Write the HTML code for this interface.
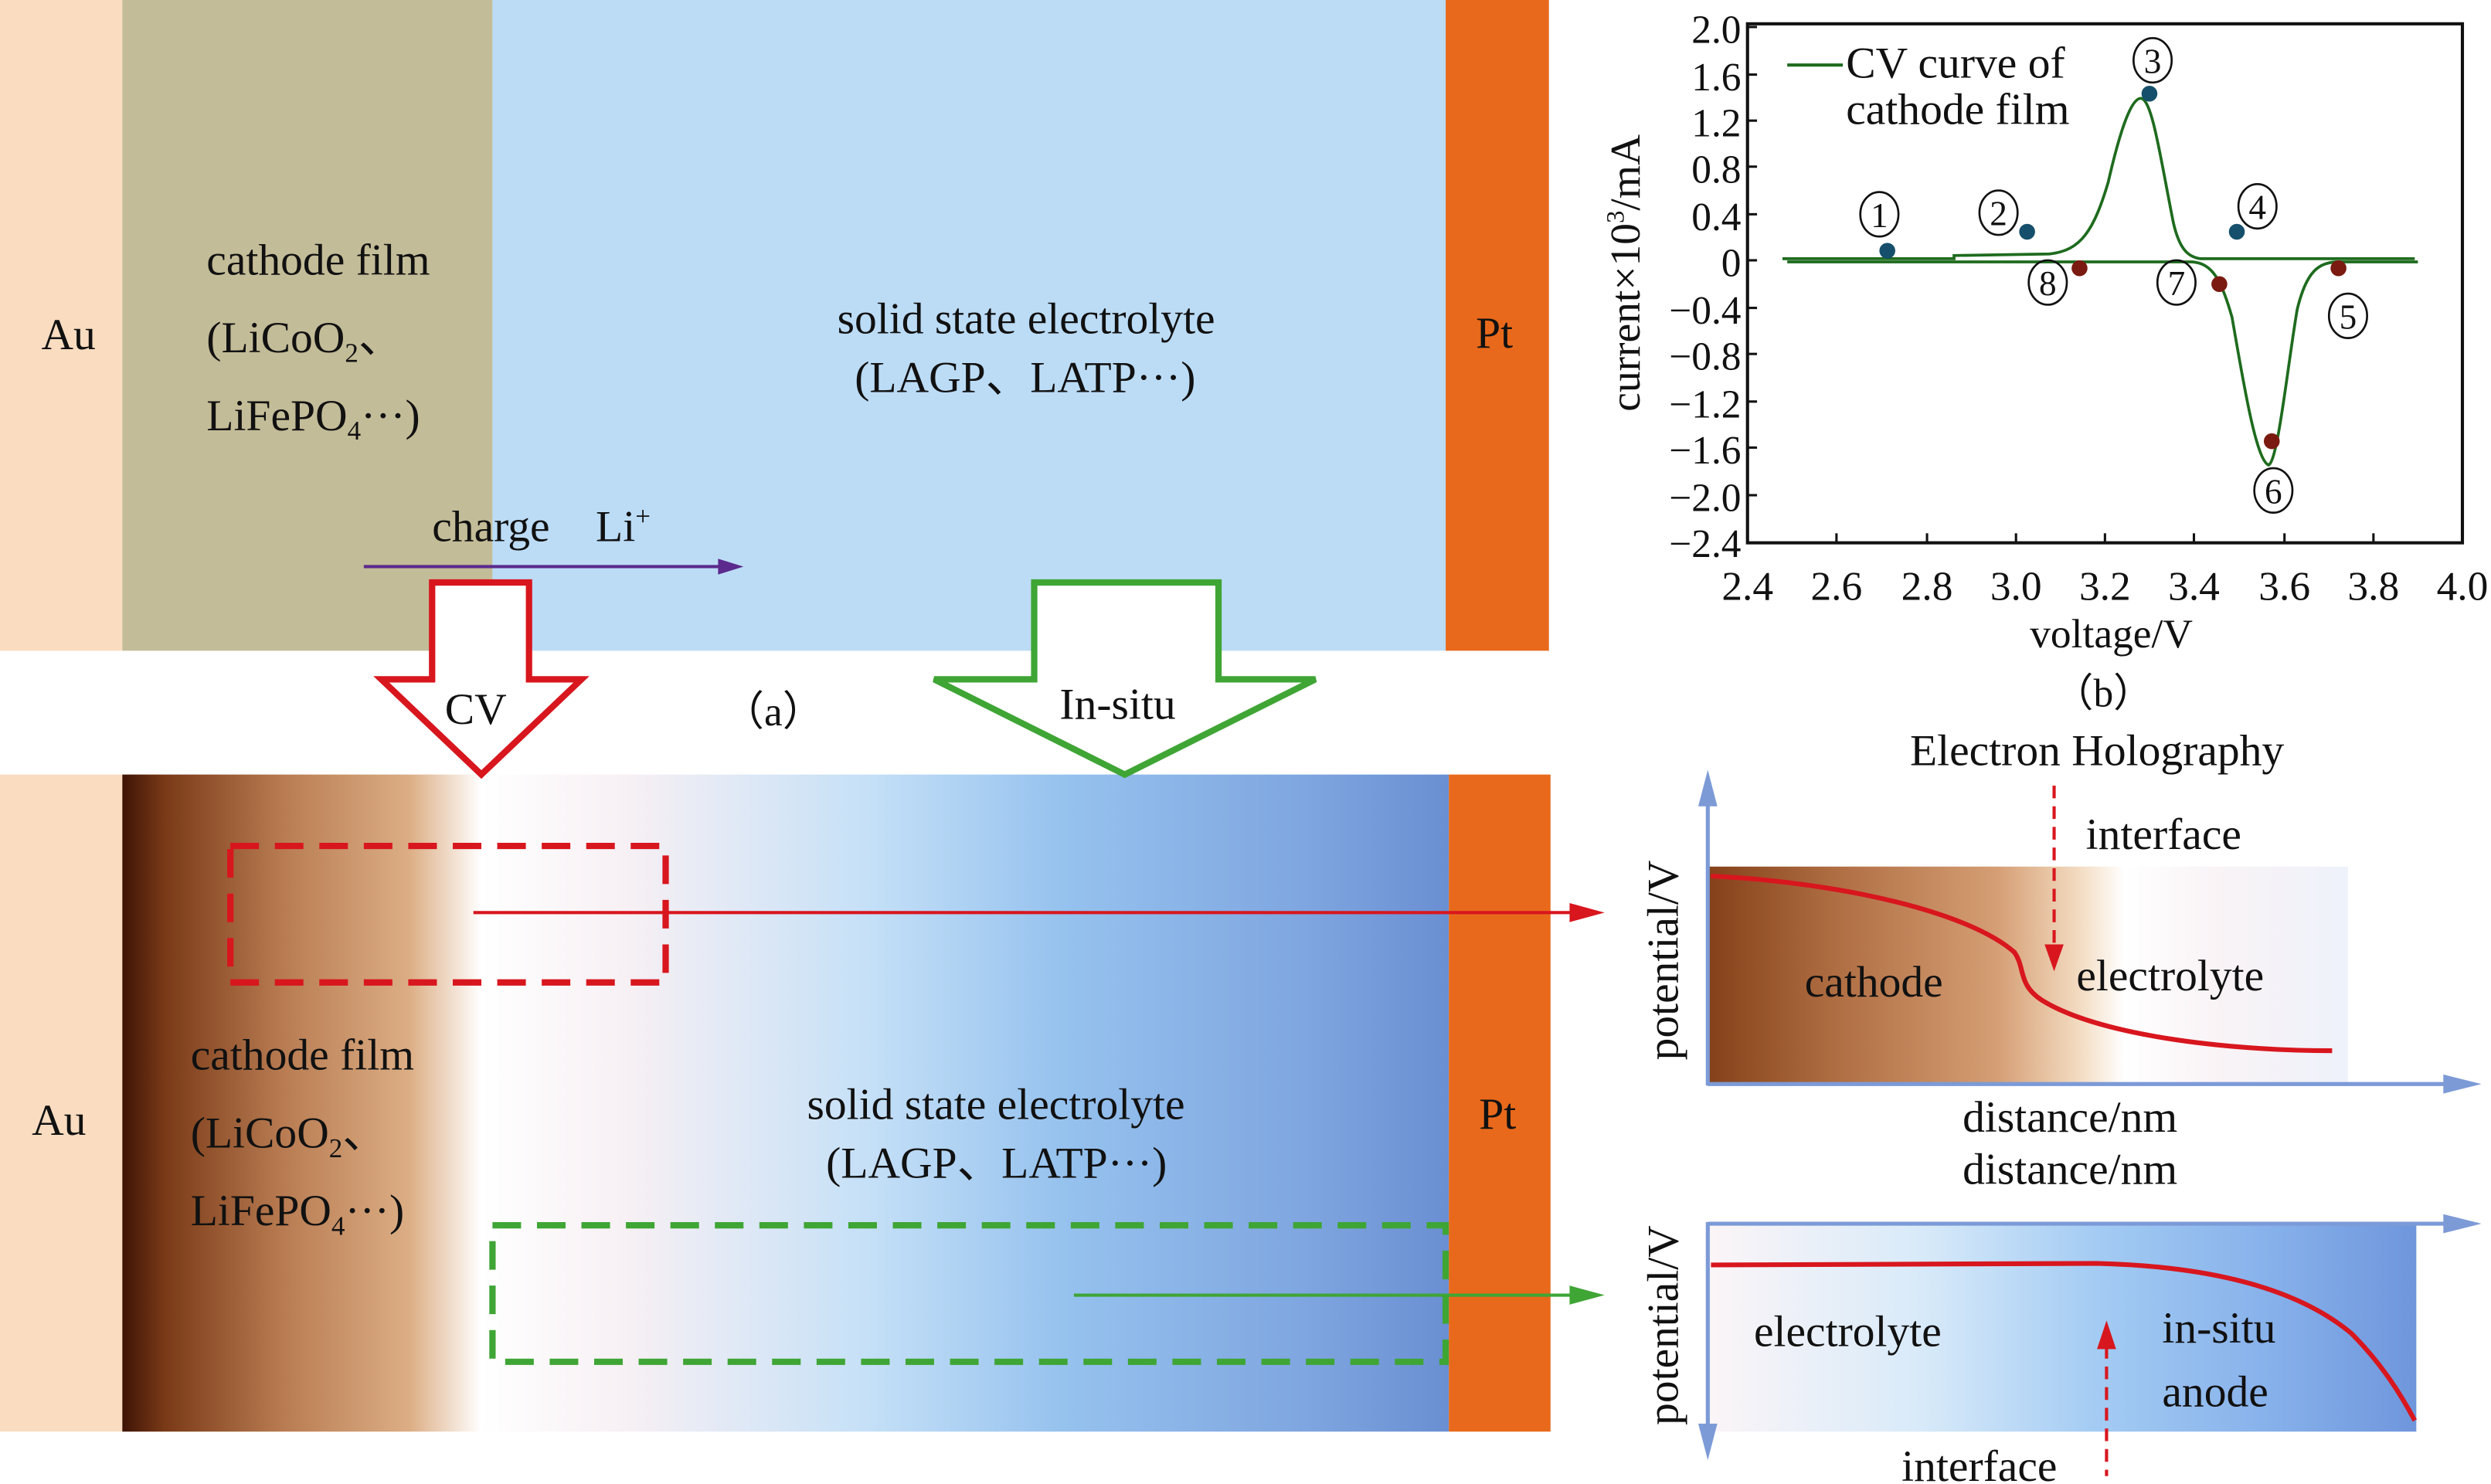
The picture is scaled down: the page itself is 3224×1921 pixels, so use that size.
<!DOCTYPE html>
<html><head><meta charset="utf-8"><style>
html,body{margin:0;padding:0;background:#fff;}
svg{display:block}
text{font-family:"Liberation Serif","DejaVu Serif",serif;fill:#111;}
</style></head><body>
<svg width="3224" height="1921" viewBox="0 0 1568 935" preserveAspectRatio="none" xmlns="http://www.w3.org/2000/svg">
<defs>
<linearGradient id="cg" x1="0" x2="1" y1="0" y2="0">
<stop offset="0" stop-color="#3e1406"/><stop offset="0.12" stop-color="#7a3a17"/><stop offset="0.45" stop-color="#b97c52"/><stop offset="0.8" stop-color="#dcae85"/><stop offset="1" stop-color="#ffffff"/></linearGradient>
<linearGradient id="eg" x1="0" x2="1" y1="0" y2="0">
<stop offset="0" stop-color="#ffffff"/><stop offset="0.15" stop-color="#f7f0f4"/><stop offset="0.4" stop-color="#c5e0f7"/><stop offset="0.6" stop-color="#96c2ee"/><stop offset="0.85" stop-color="#7fa6e0"/><stop offset="1" stop-color="#6a8fd2"/></linearGradient>
<linearGradient id="hc" x1="0" x2="1"><stop offset="0" stop-color="#85421a"/><stop offset="0.2" stop-color="#b06e43"/><stop offset="0.45" stop-color="#d59e74"/><stop offset="0.58" stop-color="#f3dcc2"/><stop offset="0.65" stop-color="#ffffff"/><stop offset="0.8" stop-color="#f9f3f6"/><stop offset="1" stop-color="#eef2fb"/></linearGradient>
<linearGradient id="ha" x1="0" x2="1"><stop offset="0" stop-color="#fbf5f7"/><stop offset="0.3" stop-color="#d8eaf9"/><stop offset="0.55" stop-color="#a3cbf3"/><stop offset="0.8" stop-color="#86b0ea"/><stop offset="1" stop-color="#6f96dc"/></linearGradient>
</defs>
<!-- top panel -->
<rect x="0" y="0" width="77" height="410" fill="#fadcc0"/>
<rect x="77" y="0" width="233" height="410" fill="#c3bc98"/>
<rect x="310" y="0" width="600" height="410" fill="#bcdcf6"/>
<rect x="910" y="0" width="65" height="410" fill="#e8691b"/>
<text x="26" y="220" font-size="28">Au</text>
<text x="130" y="173" font-size="28">cathode film</text>
<text x="130" y="222" font-size="28">(LiCoO<tspan font-size="17" dy="6">2</tspan><tspan dy="-6">、</tspan></text>
<text x="130" y="271" font-size="28">LiFePO<tspan font-size="17" dy="6">4</tspan><tspan dy="-6">···)</tspan></text>
<text x="527" y="210" font-size="28">solid state electrolyte</text>
<text x="538" y="247" font-size="28">(LAGP、LATP···)</text>
<text x="929" y="219" font-size="28">Pt</text>
<text x="272" y="341" font-size="28">charge</text>
<text x="375" y="341" font-size="28">Li<tspan font-size="17" dy="-10">+</tspan></text>
<line x1="229" y1="357" x2="458" y2="357" stroke="#5b2a8c" stroke-width="2"/>
<polygon points="468,357 452,352 452,362" fill="#5b2a8c"/>
<!-- bottom panel -->
<rect x="0" y="488" width="77" height="414" fill="#fadcc0"/>
<rect x="77" y="488" width="226" height="414" fill="url(#cg)"/>
<rect x="303" y="488" width="609" height="414" fill="url(#eg)"/>
<rect x="912" y="488" width="64" height="414" fill="#e8691b"/>
<text x="20" y="715" font-size="28">Au</text>
<text x="120" y="674" font-size="28">cathode film</text>
<text x="120" y="723" font-size="28">(LiCoO<tspan font-size="17" dy="6">2</tspan><tspan dy="-6">、</tspan></text>
<text x="120" y="772" font-size="28">LiFePO<tspan font-size="17" dy="6">4</tspan><tspan dy="-6">···)</tspan></text>
<text x="508" y="705" font-size="28">solid state electrolyte</text>
<text x="520" y="742" font-size="28">(LAGP、LATP···)</text>
<text x="931" y="711" font-size="28">Pt</text>
<rect x="145" y="533" width="274" height="86" fill="none" stroke="#d8161e" stroke-width="4" stroke-dasharray="18,10"/>
<line x1="298" y1="575" x2="995" y2="575" stroke="#d8161e" stroke-width="2"/>
<polygon points="1010,575 988,569 988,581" fill="#d8161e"/>
<rect x="310" y="772" width="600" height="86" fill="none" stroke="#3fa535" stroke-width="4" stroke-dasharray="18,10"/>
<line x1="676" y1="816" x2="995" y2="816" stroke="#3fa535" stroke-width="2"/>
<polygon points="1010,816 988,810 988,822" fill="#3fa535"/>
<!-- big arrows -->
<polygon points="272,367 333,367 333,428 366,428 303,488 240,428 272,428" fill="#fff" stroke="#d8161e" stroke-width="4"/>
<text x="280" y="456" font-size="28">CV</text>
<polygon points="651,367 767,367 767,428 828,428 708,488 588,428 651,428" fill="#fff" stroke="#3fa535" stroke-width="4"/>
<text x="667" y="453" font-size="28">In-situ</text>
<text x="455" y="457" font-size="26">（a）</text>
<!-- CV plot -->
<rect x="1100" y="15" width="450" height="327" fill="none" stroke="#111" stroke-width="2"/>
<g stroke="#111" stroke-width="1.5">
<line x1="1100" y1="17" x2="1106" y2="17"/><line x1="1100" y1="47" x2="1106" y2="47"/><line x1="1100" y1="76" x2="1106" y2="76"/><line x1="1100" y1="105" x2="1106" y2="105"/><line x1="1100" y1="135" x2="1106" y2="135"/><line x1="1100" y1="164" x2="1106" y2="164"/><line x1="1100" y1="194" x2="1106" y2="194"/><line x1="1100" y1="223" x2="1106" y2="223"/><line x1="1100" y1="253" x2="1106" y2="253"/><line x1="1100" y1="282" x2="1106" y2="282"/><line x1="1100" y1="312" x2="1106" y2="312"/>
<line x1="1156" y1="342" x2="1156" y2="336"/><line x1="1213" y1="342" x2="1213" y2="336"/><line x1="1269" y1="342" x2="1269" y2="336"/><line x1="1325" y1="342" x2="1325" y2="336"/><line x1="1381" y1="342" x2="1381" y2="336"/><line x1="1438" y1="342" x2="1438" y2="336"/><line x1="1494" y1="342" x2="1494" y2="336"/>
</g>
<g font-size="25" text-anchor="end">
<text x="1096" y="27">2.0</text><text x="1096" y="57">1.6</text><text x="1096" y="86">1.2</text><text x="1096" y="115">0.8</text><text x="1096" y="145">0.4</text><text x="1096" y="174">0</text><text x="1096" y="204">−0.4</text><text x="1096" y="233">−0.8</text><text x="1096" y="263">−1.2</text><text x="1096" y="292">−1.6</text><text x="1096" y="322">−2.0</text><text x="1096" y="351">−2.4</text>
</g>
<g font-size="26" text-anchor="middle">
<text x="1100" y="378">2.4</text><text x="1156" y="378">2.6</text><text x="1213" y="378">2.8</text><text x="1269" y="378">3.0</text><text x="1325" y="378">3.2</text><text x="1381" y="378">3.4</text><text x="1438" y="378">3.6</text><text x="1494" y="378">3.8</text><text x="1550" y="378">4.0</text>
<text x="1329" y="408">voltage/V</text>
<text x="1324" y="445" font-size="25">（b）</text>
</g>
<text transform="translate(1032,172) rotate(-90)" font-size="27" text-anchor="middle">current×10<tspan font-size="16" dy="-10">3</tspan><tspan dy="10">/mA</tspan></text>
<line x1="1125" y1="41" x2="1160" y2="41" stroke="#1e6b1e" stroke-width="2"/>
<text x="1162" y="49" font-size="28">CV curve of</text>
<text x="1162" y="78" font-size="28">cathode film</text>
<path d="M1122,163 L1230,163 L1230,161 L1290,160 C1310,158 1318,145 1327,115 C1335,80 1342,61 1348,62 C1355,64 1360,100 1368,140 C1372,158 1378,162 1385,163 L1520,163" fill="none" stroke="#1e6b1e" stroke-width="1.8"/>
<path d="M1125,165 L1380,165 C1392,166 1398,175 1405,200 C1412,240 1420,290 1428,293 C1434,290 1440,230 1446,195 C1452,170 1460,166 1470,165 L1522,165" fill="none" stroke="#1e6b1e" stroke-width="1.8"/>
<g fill="#164f6b"><circle cx="1188" cy="158" r="5"/><circle cx="1276" cy="146" r="5"/><circle cx="1353" cy="59" r="5"/><circle cx="1408" cy="146" r="5"/></g>
<g fill="#7a1a10"><circle cx="1309" cy="169" r="5"/><circle cx="1397" cy="179" r="5"/><circle cx="1430" cy="278" r="5"/><circle cx="1472" cy="169" r="5"/></g>
<g fill="none" stroke="#111" stroke-width="1.3">
<ellipse cx="1183" cy="135" rx="12" ry="14"/><ellipse cx="1258" cy="134" rx="12" ry="14"/><ellipse cx="1355" cy="38" rx="12" ry="14"/><ellipse cx="1421" cy="130" rx="12" ry="14"/><ellipse cx="1478" cy="199" rx="12" ry="14"/><ellipse cx="1431" cy="309" rx="12" ry="14"/><ellipse cx="1370" cy="178" rx="12" ry="14"/><ellipse cx="1289" cy="178" rx="12" ry="14"/>
</g>
<g font-size="22" text-anchor="middle">
<text x="1183" y="143">1</text><text x="1258" y="142">2</text><text x="1355" y="46">3</text><text x="1421" y="138">4</text><text x="1478" y="207">5</text><text x="1431" y="317">6</text><text x="1370" y="186">7</text><text x="1289" y="186">8</text>
</g>
<!-- holography -->
<text x="1320" y="482" font-size="28" text-anchor="middle">Electron Holography</text>
<rect x="1076" y="546" width="402" height="137" fill="url(#hc)"/>
<line x1="1075" y1="493" x2="1075" y2="684" stroke="#7c9ad6" stroke-width="2.5"/>
<polygon points="1075,485 1069,508 1081,508" fill="#7c9ad6"/>
<line x1="1075" y1="683" x2="1548" y2="683" stroke="#7c9ad6" stroke-width="2.5"/>
<polygon points="1562,683 1538,677 1538,689" fill="#7c9ad6"/>
<path d="M1077,552 C1160,556 1240,575 1268,600 C1275,610 1270,620 1285,630 C1320,652 1400,662 1468,662" fill="none" stroke="#d8161e" stroke-width="3"/>
<line x1="1293" y1="495" x2="1293" y2="600" stroke="#d8161e" stroke-width="2" stroke-dasharray="8,5"/>
<polygon points="1293,612 1287,595 1299,595" fill="#d8161e"/>
<text x="1313" y="535" font-size="28">interface</text>
<text x="1136" y="628" font-size="28">cathode</text>
<text x="1307" y="624" font-size="28">electrolyte</text>
<text x="1303" y="713" font-size="28" text-anchor="middle">distance/nm</text>
<text x="1303" y="746" font-size="28" text-anchor="middle">distance/nm</text>
<text transform="translate(1056,605) rotate(-90)" font-size="28" text-anchor="middle">potential/V</text>
<rect x="1076" y="772" width="445" height="130" fill="url(#ha)"/>
<line x1="1075" y1="771" x2="1548" y2="771" stroke="#7c9ad6" stroke-width="2.5"/>
<polygon points="1562,771 1538,765 1538,777" fill="#7c9ad6"/>
<line x1="1075" y1="770" x2="1075" y2="908" stroke="#7c9ad6" stroke-width="2.5"/>
<polygon points="1075,920 1069,897 1081,897" fill="#7c9ad6"/>
<path d="M1077,797 L1320,796 C1400,798 1450,815 1480,840 C1500,860 1512,880 1520,895" fill="none" stroke="#d8161e" stroke-width="3"/>
<line x1="1326" y1="848" x2="1326" y2="930" stroke="#d8161e" stroke-width="2" stroke-dasharray="8,5"/>
<polygon points="1326,832 1320,850 1332,850" fill="#d8161e"/>
<text x="1104" y="848" font-size="28">electrolyte</text>
<text x="1361" y="846" font-size="28">in-situ</text>
<text x="1361" y="886" font-size="28">anode</text>
<text x="1197" y="933" font-size="28">interface</text>
<text transform="translate(1056,835) rotate(-90)" font-size="28" text-anchor="middle">potential/V</text>
</svg>
</body></html>
